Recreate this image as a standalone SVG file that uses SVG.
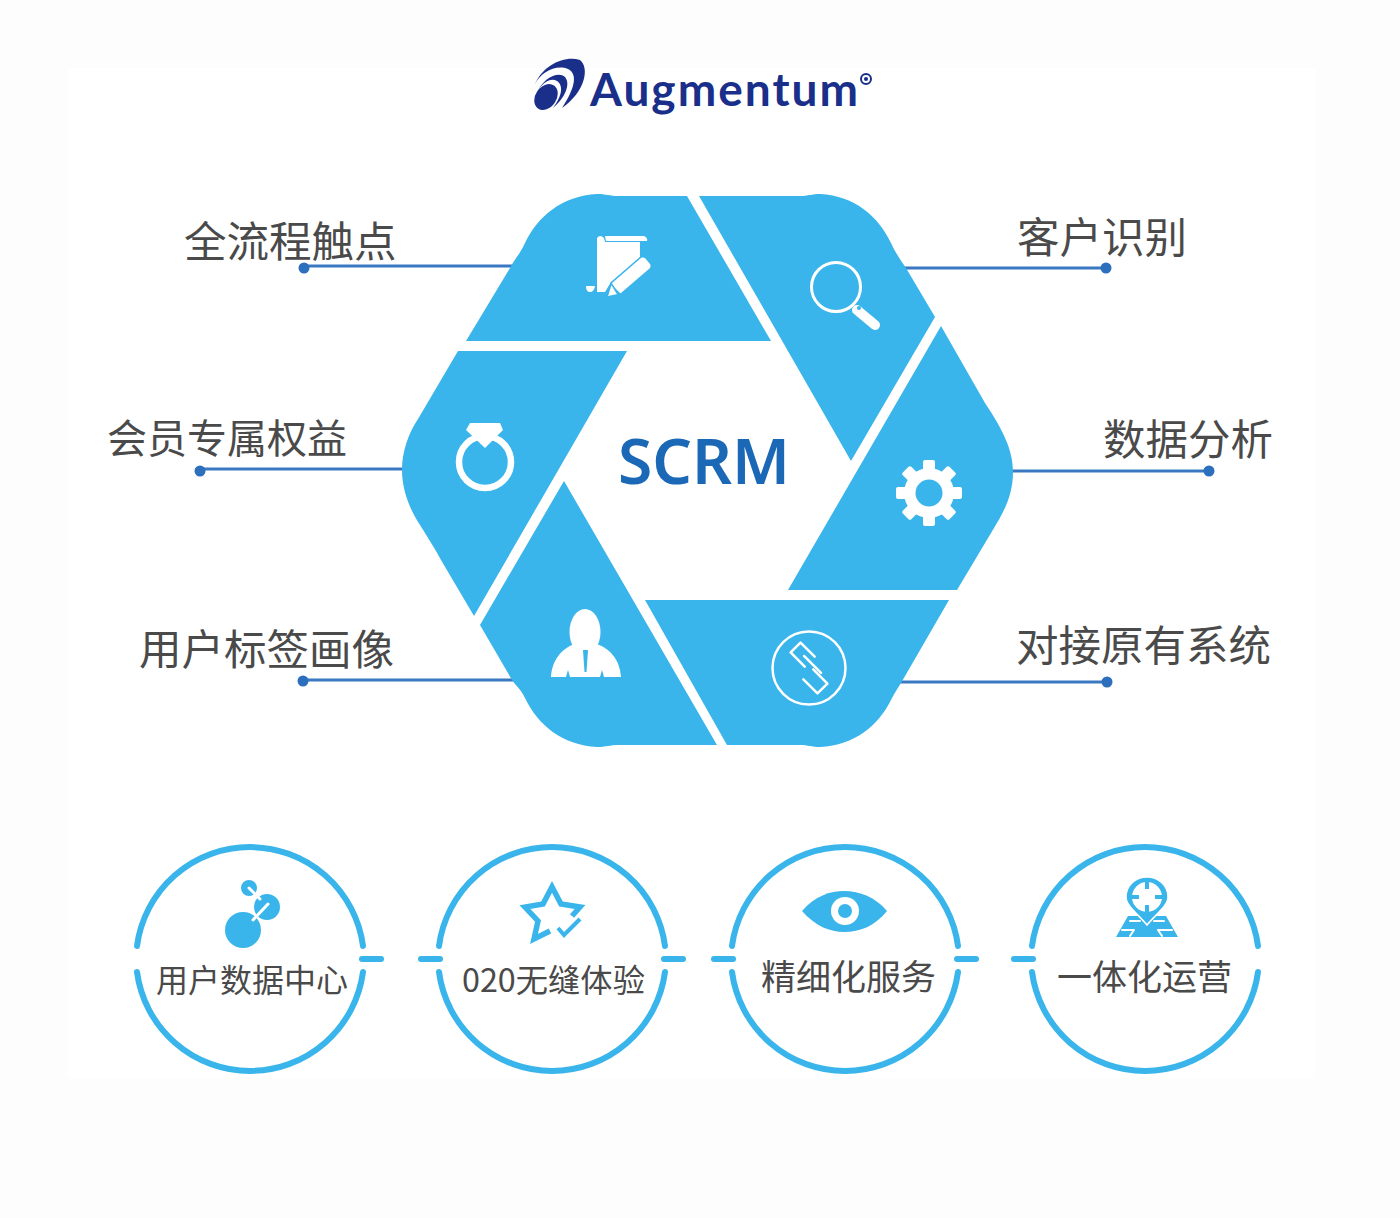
<svg xmlns="http://www.w3.org/2000/svg" width="1400" height="1218" viewBox="0 0 1400 1218">
<style>
.seg{fill:#39b5eb}
.ink{fill:#4a4a4a;font-family:"Noto Sans CJK SC","Liberation Sans",sans-serif;font-weight:400}
.lab{font-size:42.500px}
.sub{font-size:35px}
.lead{stroke:#3a78c2;stroke-width:3;fill:none}
.dot{fill:#2b6fbd}
.ring{fill:none;stroke:#39b5eb;stroke-width:6;stroke-linecap:round}
.wl{fill:none;stroke:#fff;stroke-linecap:round;stroke-linejoin:round}
.w{fill:#fff}
.b{fill:#39b5eb}
</style>
<rect width="1400" height="1218" fill="#fdfdfd"/>
<rect x="68" y="68" width="1247" height="1010" fill="#fff"/>

<g id="logo">
<path fill="#1a2f8a" d="M535,84C543,65 565,55 580,60C590,68 585,92 562,108C575,88 578,74 568,69C556,64 541,72 535,84Z"/>
<path fill="#1a2f8a" d="M537,93C543,78 558,71 565,77C571,84 565,98 553,108C563,95 563,85 557,81C550,77 541,84 537,93Z"/>
<ellipse fill="#1a2f8a" cx="546" cy="97" rx="10.500" ry="14" transform="rotate(35 546 97)"/>
<text x="590" y="106" font-family="Lato,'Liberation Sans',sans-serif" font-weight="700" font-size="46" fill="#1a2f8a" textLength="268" lengthAdjust="spacing">Augmentum</text>
<circle cx="866" cy="79" r="5" fill="none" stroke="#1a2f8a" stroke-width="2"/>
<circle cx="866" cy="79" r="2" fill="#1a2f8a"/>
</g>

<g id="connectors">
<path class="lead" d="M304,268L306,266H514"/><circle class="dot" cx="304" cy="268" r="5.500"/>
<path class="lead" d="M904,268H1106"/><circle class="dot" cx="1106" cy="268" r="5.500"/>
<path class="lead" d="M200,471L204,469H404"/><circle class="dot" cx="200" cy="471" r="5.500"/>
<path class="lead" d="M1011,471H1209"/><circle class="dot" cx="1209" cy="471" r="5.500"/>
<path class="lead" d="M303,681L305,680H514"/><circle class="dot" cx="303" cy="681" r="5.500"/>
<path class="lead" d="M899,682H1107"/><circle class="dot" cx="1107" cy="682" r="5.500"/>
<g stroke="#39b5eb" stroke-width="6" stroke-linecap="round">
<path d="M362,959H381M421,959H440M664,959H683M714,959H733M957,959H976M1014,959H1033"/>
</g>
</g>

<g id="seg-touchpoint">
<path class="seg" d="M466,341H771L687,196H618C610,196 606,194 597,194C562,196 538,216 525,243C520,254 514,260 510,268Z"/>
<path class="w" d="M597,238Q600,234 604,238L605,242H640V258L611,282L605,292H597Z"/>
<path class="w" d="M605,236H644Q648,238 647,241H606Z"/>
<path class="w" d="M586,286H595Q594,292 590,292Q586,292 586,286Z"/>
<path class="w" stroke="#39b5eb" stroke-width="1.500" d="M611,283L641,257Q644,256 646,258L651,264Q652,267 650,269L622,293Q619,295 617,293ZM611,284L607,297L621,294"/>
</g>
<g id="seg-identify">
<path class="seg" d="M699,196H800C808,196 812,194 820,194C855,196 878,216 891,243C896,254 902,262 906,268L935,317L851,461Z"/>
<circle class="wl" cx="836" cy="287" r="24.500" stroke-width="3"/>
<path class="wl" stroke-width="10" d="M857,310L875,325"/>
<circle class="b" cx="859" cy="308" r="2"/>
</g>
<g id="seg-analysis">
<path class="seg" d="M941,326L985,403C1003,430 1013,450 1013,472C1013,496 1003,513 994,528L957,590H788Z"/>
<g class="w">
<circle cx="929" cy="493" r="25"/>
<rect x="923" y="460" width="12" height="66" rx="2"/>
<rect x="923" y="460" width="12" height="66" rx="2" transform="rotate(45 929 493)"/>
<rect x="923" y="460" width="12" height="66" rx="2" transform="rotate(90 929 493)"/>
<rect x="923" y="460" width="12" height="66" rx="2" transform="rotate(135 929 493)"/>
</g>
<circle class="b" cx="929" cy="493" r="13.500"/>
</g>
<g id="seg-connect">
<path class="seg" d="M949,600H645L727,745H800C808,745 812,747 820,747C855,745 878,726 891,700C895,692 898,688 901,683Z"/>
<circle class="wl" cx="809" cy="668" r="36.500" stroke-width="2.500"/>
<path class="wl" stroke-width="2.500" transform="rotate(45 809 668)" d="M805,656H785V670H805M813,666H833V680H813M797,663H821"/>
</g>
<g id="seg-person">
<path class="seg" d="M564,481L717,745H618C610,745 606,747 597,747C562,745 538,725 525,698C520,688 516,686 512,680L480,625Z"/>
<ellipse class="w" cx="585" cy="632" rx="15.500" ry="23"/>
<path class="w" d="M551,677C552,660 562,648 575,644C578,650 592,650 596,644C610,648 620,660 621,677H604L602,670L600,677H570L568,670L566,677Z"/>
<path class="b" d="M583,650H588L586.500,672H584.500Z"/>
</g>
<g id="seg-benefit">
<path class="seg" d="M627,351H458L418,419C408,434 402,452 402,470C402,490 410,510 420,525C428,538 436,550 441,560L474,616Z"/>
<ellipse class="wl" cx="485" cy="462" rx="26" ry="26" stroke-width="6.500"/>
<path class="w" d="M470,423H500L503,430L485,448L466,430Z"/>
</g>

<g id="center">
<text x="618" y="484" font-family="'Noto Sans','Open Sans',sans-serif" font-weight="600" font-size="64" fill="#1b68b6" textLength="172" lengthAdjust="spacingAndGlyphs">SCRM</text>
</g>

<g id="label-touchpoint"><text class="ink lab" x="184" y="257">全流程触点</text></g>
<g id="label-identify"><text class="ink lab" x="1017" y="253">客户识别</text></g>
<g id="label-benefit"><text class="ink lab" style="font-size:40px" x="107" y="453">会员专属权益</text></g>
<g id="label-analysis"><text class="ink lab" x="1103" y="455">数据分析</text></g>
<g id="label-portrait"><text class="ink lab" x="139" y="665">用户标签画像</text></g>
<g id="label-system"><text class="ink lab" x="1016" y="661">对接原有系统</text></g>

<g id="circle-data">
<path class="ring" d="M137,946A114,114 0 0 1 363,946M137,972A114,114 0 0 0 363,972"/>
<circle class="b" cx="243" cy="930" r="18"/>
<circle class="b" cx="267" cy="907" r="13"/>
<circle class="b" cx="249" cy="888" r="8"/>
<path class="wl" stroke-width="3" d="M253,920L268,904M249,888L260,899"/>
<text class="ink" font-size="32" x="156" y="992">用户数据中心</text>
</g>
<g id="circle-o2o">
<path class="ring" d="M439,946A114,114 0 0 1 665,946M439,972A114,114 0 0 0 665,972"/>
<path fill="none" stroke="#39b5eb" stroke-width="5.500" stroke-linejoin="miter" d="M572,916L580,907L561,904L552,887L543,904L525,907L538,921L534,939L550,931"/>
<path fill="none" stroke="#39b5eb" stroke-width="4" d="M558,928L564,935L580,919"/>
<text class="ink" font-size="32.300" x="462" y="992">020无缝体验</text>
</g>
<g id="circle-service">
<path class="ring" d="M732,946A114,114 0 0 1 958,946M732,972A114,114 0 0 0 958,972"/>
<path class="b" d="M802,911C815,896 830,891 844,891C860,891 875,897 887,911C875,926 860,932 844,932C830,932 815,926 802,911Z"/>
<circle class="w" cx="845" cy="911" r="14"/>
<circle class="b" cx="845" cy="911" r="7"/>
<text class="ink sub" x="761" y="990">精细化服务</text>
</g>
<g id="circle-ops">
<path class="ring" d="M1032,946A114,114 0 0 1 1258,946M1032,972A114,114 0 0 0 1258,972"/>
<path class="b" d="M1116,937L1128,916H1142L1147,924L1152,916H1166L1178,937Z"/>
<path class="wl" stroke-width="2" d="M1122,930H1134L1130,936M1172,930H1158L1162,936M1130,921H1140M1154,921H1164"/>
<path class="b" stroke="#fff" stroke-width="1.500" d="M1147,925C1138,914 1126,906 1126,897C1126,885 1136,877 1147,877C1158,877 1168,885 1168,897C1168,906 1156,914 1147,925Z"/>
<circle class="w" cx="1147" cy="897" r="15"/>
<path fill="none" stroke="#39b5eb" stroke-width="4" d="M1147,881V889M1147,905V913M1131,897H1139M1155,897H1163"/>
<text class="ink sub" x="1057" y="990">一体化运营</text>
</g>
</svg>
